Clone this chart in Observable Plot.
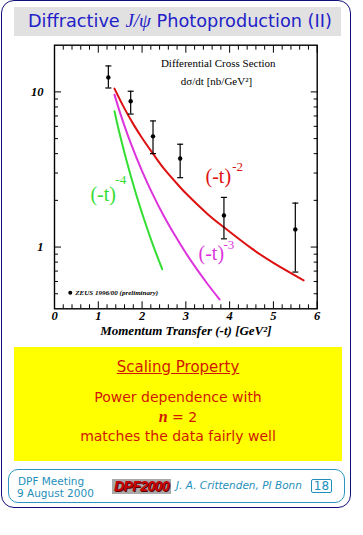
<!DOCTYPE html>
<html>
<head>
<meta charset="utf-8">
<script src="https://cdn.jsdelivr.net/npm/d3@7"></script>
<script src="https://cdn.jsdelivr.net/npm/@observablehq/plot@0.6"></script>
<style>
  html, body { margin: 0; padding: 0; background: #ffffff; }
  #page { position: relative; width: 363px; height: 535px; overflow: hidden; font-family: "DejaVu Sans", sans-serif; }
  #border { position: absolute; left: 1px; top: 0px; width: 350px; height: 508px; border: 1.5px solid #10107a; border-radius: 13px; box-sizing: border-box; }
  #titlebar { position: absolute; left: 14px; top: 7px; width: 327px; height: 29px; background: #e1e1e1; }
  #title { position: absolute; left: 28px; top: 11px; font-size: 17.7px; line-height: 1; color: #2222c8; white-space: nowrap; }
  #title i { font-family: "Liberation Serif", serif; font-size: 19px; }
  #chart { position: absolute; left: 0; top: 40px; }
  #note { position: absolute; left: 14px; top: 347px; width: 328px; height: 114px; background: #ffff00; }
  .ln { position: absolute; left: 0; width: 100%; text-align: center; line-height: 1; color: #d01800; white-space: nowrap; }
  #footer { position: absolute; left: 8px; top: 469px; width: 337px; height: 34px; border: 1px solid #2a96bf; border-radius: 10px; box-sizing: border-box; }
  .ft { position: absolute; line-height: 1; color: #1f8fba; font-size: 10.5px; white-space: nowrap; }
  #logo { position: absolute; left: 112px; top: 479px; width: 59px; height: 15px; background: #a9a9a9; text-align: center; font-family: "Liberation Sans", sans-serif; font-weight: bold; font-style: italic; font-size: 14px; line-height: 15px; color: #c80000; letter-spacing: -0.6px; text-shadow: 1px 1px 0 #5a0000; }
  #pg { position: absolute; left: 311px; top: 479px; width: 21px; height: 14px; border: 1px solid #1f8fba; border-radius: 2px; box-sizing: border-box; text-align: center; font-size: 12px; line-height: 12px; color: #1f8fba; }
</style>
</head>
<body>
<div id="page">
  <div id="border"></div>
  <div id="titlebar"></div>
  <div id="title">Diffractive <i>J/ψ</i> Photoproduction (II)</div>
  <div id="chart"></div>
  <div id="note">
    <div class="ln" style="top:13px;font-size:15px;"><span style="text-decoration:underline;">Scaling Property</span></div>
    <div class="ln" style="top:43px;font-size:14px;">Power dependence with</div>
    <div class="ln" style="top:62px;font-size:14px;"><i style="font-family:'Liberation Serif',serif;font-weight:bold;font-size:16px;">n</i> = 2</div>
    <div class="ln" style="top:82px;font-size:14px;">matches the data fairly well</div>
  </div>
  <div id="footer"></div>
  <div class="ft" style="left:18px;top:476px;">DPF Meeting</div>
  <div class="ft" style="left:17px;top:488px;">9 August 2000</div>
  <div id="logo">DPF2000</div>
  <div class="ft" style="left:176px;top:480px;font-style:italic;">J. A. Crittenden, PI Bonn</div>
  <div id="pg">18</div>
</div>
<script>
// ZEUS 1996/00 preliminary data points
const tData  = [1.23, 1.74, 2.25, 2.87, 3.87, 5.5];
const sigData = [12.4, 8.7, 5.17, 3.72, 1.6, 1.3];
const sigHi  = [14.7, 10.1, 6.5, 4.6, 2.09, 1.92];
const sigLo  = [10.6, 7.2, 4.0, 2.8, 1.13, 0.69];

// power-law curves
const tRed = [1.37, 1.6, 1.8, 2.0, 2.25, 2.5, 2.87, 3.0, 3.5, 3.87, 4.5, 5.0, 5.69];
const yRed = [10.5, 7.8, 6.2, 5.05, 4.0, 3.2, 2.43, 2.22, 1.63, 1.34, 0.98, 0.79, 0.61];
const tMag = [1.37, 1.5, 1.75, 2.0, 2.25, 2.5, 2.75, 3.0, 3.25, 3.5, 3.77];
const yMag = [9.6, 7.3, 4.6, 3.09, 2.17, 1.58, 1.19, 0.915, 0.72, 0.576, 0.46];
const tGrn = [1.37, 1.5, 1.75, 2.0, 2.25, 2.46];
const yGrn = [7.5, 5.2, 2.82, 1.65, 1.03, 0.72];

// tick values
const xMajor = [0, 1, 2, 3, 4, 5, 6];
const xMinor = [0.2, 0.4, 0.6, 0.8, 1.2, 1.4, 1.6, 1.8, 2.2, 2.4, 2.6, 2.8, 3.2, 3.4, 3.6, 3.8, 4.2, 4.4, 4.6, 4.8, 5.2, 5.4, 5.6, 5.8];
const yMajor = [1, 10];
const yMinor = [0.5, 0.6, 0.7, 0.8, 0.9, 2, 3, 4, 5, 6, 7, 8, 9];

// annotations (data coordinates)
const curveLabels = [
  {t: 3.45, y: 2.84, s: "(-t)", c: "#dd1111", fs: 20},
  {t: 4.06, y: 3.3, s: "-2",   c: "#dd1111", fs: 13},
  {t: 3.29, y: 0.908, s: "(-t)", c: "#dd33dd", fs: 20},
  {t: 3.86, y: 1.03,  s: "-3",   c: "#dd33dd", fs: 13},
  {t: 0.82, y: 2.19, s: "(-t)", c: "#33dd33", fs: 20},
  {t: 1.39, y: 2.7, s: "-4",   c: "#33dd33", fs: 13}
];
const headerLines = [
  {t: 3.74, y: 15.2, s: "Differential Cross Section"},
  {t: 3.70, y: 11.6, s: "dσ/dt [nb/GeV²]"}
];
const legendItem = [{t: 0.36, y: 0.508, s: "ZEUS 1996/00 (preliminary)"}];

const rows = tData.map((t, i) => ({t, s: sigData[i], hi: sigHi[i], lo: sigLo[i]}));

const capSymbol = {
  draw(context, size) {
    const r = Math.sqrt(size / Math.PI);
    context.moveTo(-r, 0);
    context.lineTo(r, 0);
  }
};

const serif = "Liberation Serif, Times New Roman, serif";
const tickOpts = {stroke: "black", strokeWidth: 1, tickFormat: () => "", label: null};
const lblOpts = {tickSize: 0, fontFamily: serif, fontSize: 12.5, fontWeight: "bold", fontStyle: "italic", fill: "black", label: null, tickFormat: d => String(d)};

const chart = Plot.plot({
  width: 363,
  height: 305,
  marginLeft: 54,
  marginRight: 46.3,
  marginTop: 4.7,
  marginBottom: 36.7,
  style: {background: "transparent", fontFamily: serif, overflow: "visible"},
  x: {domain: [0, 6], label: null},
  y: {type: "log", domain: [0.4, 20], label: null},
  marks: [
    Plot.frame({stroke: "black", strokeWidth: 1.4}),
    // inward ticks
    Plot.axisX({anchor: "bottom", ticks: xMajor, tickSize: -7, ...tickOpts}),
    Plot.axisX({anchor: "bottom", ticks: xMinor, tickSize: -4, ...tickOpts}),
    Plot.axisX({anchor: "top", ticks: xMajor, tickSize: -7, ...tickOpts}),
    Plot.axisX({anchor: "top", ticks: xMinor, tickSize: -4, ...tickOpts}),
    Plot.axisY({anchor: "left", ticks: yMajor, tickSize: -7, ...tickOpts}),
    Plot.axisY({anchor: "left", ticks: yMinor, tickSize: -4, ...tickOpts}),
    Plot.axisY({anchor: "right", ticks: yMajor, tickSize: -7, ...tickOpts}),
    Plot.axisY({anchor: "right", ticks: yMinor, tickSize: -4, ...tickOpts}),
    // tick labels
    Plot.axisX({anchor: "bottom", ticks: xMajor, tickPadding: 2, ...lblOpts}),
    Plot.axisY({anchor: "left", ticks: yMajor, tickPadding: 11, ...lblOpts}),
    // curves
    Plot.line(tRed, {x: tRed, y: yRed, stroke: "#dd1111", strokeWidth: 2, curve: "catmull-rom"}),
    Plot.line(tMag, {x: tMag, y: yMag, stroke: "#dd33dd", strokeWidth: 2, curve: "catmull-rom"}),
    Plot.line(tGrn, {x: tGrn, y: yGrn, stroke: "#33dd33", strokeWidth: 2, curve: "catmull-rom"}),
    // data with error bars
    Plot.ruleX(rows, {x: "t", y1: "lo", y2: "hi", stroke: "black", strokeWidth: 1.2}),
    Plot.dot(rows, {x: "t", y: "hi", symbol: capSymbol, r: 3, fill: "none", stroke: "black", strokeWidth: 1.2}),
    Plot.dot(rows, {x: "t", y: "lo", symbol: capSymbol, r: 3, fill: "none", stroke: "black", strokeWidth: 1.2}),
    Plot.dot(rows, {x: "t", y: "s", r: 2.2, fill: "black", stroke: "none"}),
    // labels
    Plot.text(curveLabels, {x: "t", y: "y", text: "s", fill: "c", fontSize: "fs", textAnchor: "start", lineAnchor: "middle", fontFamily: serif}),
    Plot.text(headerLines, {x: "t", y: "y", text: "s", fill: "black", fontSize: 11, textAnchor: "middle", fontFamily: serif}),
    Plot.dot(legendItem, {x: "t", y: "y", r: 2, fill: "black", stroke: "none"}),
    Plot.text(legendItem, {x: "t", y: "y", text: "s", dx: 5, fill: "black", fontSize: 7, fontWeight: "bold", fontStyle: "italic", textAnchor: "start", fontFamily: serif}),
    Plot.text(["Momentum Transfer (-t) [GeV²]"], {frameAnchor: "bottom", text: d => d, dy: 26.5, fontSize: 13, fontWeight: "bold", fontStyle: "italic", fill: "black", fontFamily: serif})
  ]
});
document.getElementById("chart").appendChild(chart);
</script>
</body>
</html>
